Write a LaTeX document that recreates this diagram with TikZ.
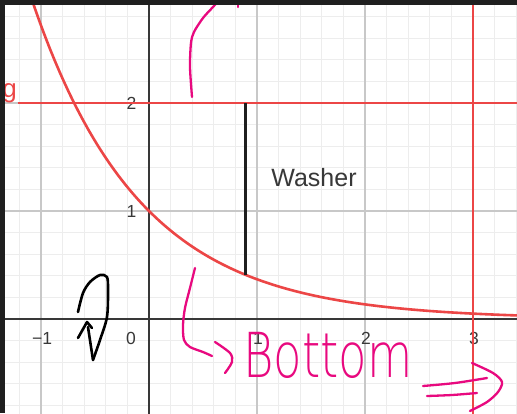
\documentclass[tikz,border=0pt]{standalone}
\usepackage{fontspec,graphicx}
\setmainfont{Liberation Sans}
\newfontfamily\handfont{DejaVu Sans ExtraLight}
\definecolor{plotred}{HTML}{EC4646}
\definecolor{pen}{HTML}{E8097F}
\definecolor{ink}{HTML}{383838}
\definecolor{frame}{HTML}{1F1F1F}
\definecolor{minor}{HTML}{EDEDED}
\definecolor{major}{HTML}{C8C8C8}

\begin{document}
\begin{tikzpicture}[x=108pt,y=108pt,
  tick/.style={text=ink,font=\fontsize{17.5}{18}\selectfont,inner sep=0pt},
  redline/.style={plotred,line width=2.6pt},
  penstroke/.style={pen,line width=2.3pt,line cap=round,line join=round},
  inkstroke/.style={black,line width=2.6pt,line cap=round,line join=round}]
\useasboundingbox (-1.3796,-0.8704) rectangle (3.4074,2.9537);
\begin{scope}
\clip (-1.3796,-0.8704) rectangle (3.4074,2.9537);
\fill[white] (-1.3796,-0.8704) rectangle (3.4074,2.9537);
\draw[minor,line width=0.9pt,step=0.2] (-1.4,-1) grid (3.5,3);
\draw[major,line width=1.1pt,step=1] (-1.4,-1) grid (3.5,3);
\draw[ink,line width=1.6pt] (-1.4,0) -- (3.5,0) (0,-1) -- (0,3);
\foreach \v/\t in {-1/−1,1/1,2/2,3/3} \node[tick] (x\v) at (\v+0.01,-0.176) {\t};
\node[tick] (x0) at (-0.167,-0.176) {0};
\foreach \v in {1,2} \node[tick] (y\v) at (-0.162,\v) {\v};
\draw[redline,domain=-1.4:3.5,samples=120,smooth] plot (\x,{exp(-\x)});
\draw[redline] (-1.213,2) -- (3.5,2);
\draw[redline] (3,-1) -- (3,3);
\node[text=plotred,font=\fontsize{26}{26}\selectfont,anchor=base east,inner sep=0pt] (glabel) at (-1.2222,2.0463) {g};
\coordinate (wtop) at (0.889,2);
\coordinate (wbot) at (0.889,{exp(-0.889)});
\draw[black!88,line width=3pt] (wbot) -- (wtop);
\node[text=ink,font=\fontsize{25}{25}\selectfont] (washer) at (1.528,1.306) {Washer};
\end{scope}
\begin{scope}[x=1pt,y=-1pt,shift={(-149pt,319pt)}]
\draw[penstroke] plot[smooth] coordinates {(192,97) (190,67) (191,43) (194,32) (203,18) (213,7) (221,-2)};
\draw[penstroke] (238,-2) -- (238,7);
\draw[penstroke] plot[smooth] coordinates {(195,268) (190,288) (185,308) (183,325) (184,340) (190,347) (203,352) (212,356)};
\draw[penstroke] plot[smooth] coordinates {(215,342) (230,353) (232,362) (225,373)};
\node[anchor=base west,inner sep=0pt,text=pen] (bottom) at (243,377) {\scalebox{0.75}[1]{\handfont\fontsize{62}{62}\selectfont Bottom}};
\draw[penstroke] plot[smooth] coordinates {(423,386) (455,383) (487,378)};
\draw[penstroke] plot[smooth] coordinates {(427,396) (452,395) (477,393)};
\draw[penstroke] plot[smooth] coordinates {(472,363) (493,373) (502,382) (498,392) (487,402) (470,411)};
\draw[inkstroke] plot[smooth] coordinates {(78,312) (83,293) (90,282) (100,275) (107,277) (108,290) (107,317) (100,340) (93,360)};
\draw[inkstroke] (93,360) -- (88,327);
\draw[inkstroke] (78,338) -- (87,322) -- (92,328);
\fill[frame] (0,0) rectangle (517,5);
\fill[frame] (0,0) rectangle (5,413);
\end{scope}
\end{tikzpicture}
\end{document}
